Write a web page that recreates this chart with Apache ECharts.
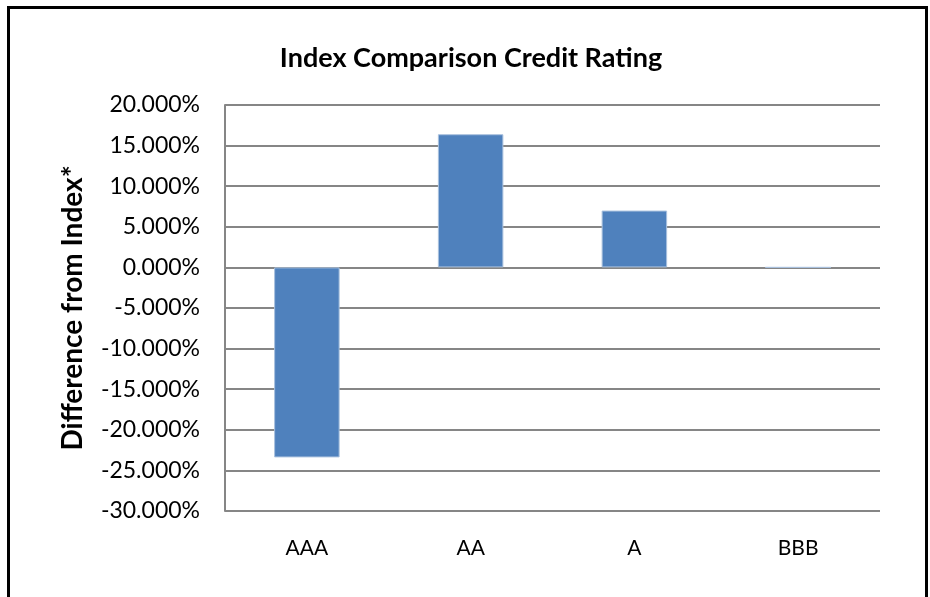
<!DOCTYPE html>
<html lang="en">
<head>
    <meta charset="UTF-8">
    <title>Index Comparison Credit Rating</title>
    <script src="https://cdn.jsdelivr.net/npm/echarts@6/dist/echarts.min.js"></script>
    <style>
        html, body {
            margin: 0;
            padding: 0;
            background: #fff;
            overflow: hidden;
        }
        #chart {
            width: 930px;
            height: 597px;
        }
        /* outer black frame, bottom edge runs off the picture */
        #frame {
            position: absolute;
            left: 7px;
            top: 6px;
            width: 915px;
            height: 620px;
            border: 3px solid #000;
            pointer-events: none;
        }
    </style>
</head>
<body>
    <div id="chart"></div>
    <div id="frame"></div>

    <script>
        const categories = ['AAA', 'AA', 'A', 'BBB'];
        const diffValues = [-23.4, 16.4, 7.0, 0];

        const chart = echarts.init(document.getElementById('chart'));

        const option = {
            animation: false,
            title: {
                text: 'Index Comparison Credit Rating',
                left: 466,
                top: 40,
                textAlign: 'center',
                textStyle: {
                    fontFamily: 'Lato',
                    fontWeight: 'bold',
                    fontSize: 27,
                    color: '#000'
                }
            },
            grid: {
                left: 225,
                right: 50,
                top: 105,
                bottom: 86
            },
            xAxis: {
                type: 'category',
                data: categories,
                position: 'bottom',
                axisLine: { show: false },
                axisTick: { show: false },
                axisLabel: {
                    margin: 27,
                    fontFamily: 'Lato',
                    fontSize: 21,
                    color: '#000'
                }
            },
            yAxis: {
                type: 'value',
                min: -30,
                max: 20,
                interval: 5,
                name: 'Difference from Index*',
                nameLocation: 'middle',
                nameGap: 138,
                nameTextStyle: {
                    fontFamily: 'Lato',
                    fontWeight: 'bold',
                    fontSize: 28,
                    color: '#000'
                },
                axisLine: {
                    show: true,
                    lineStyle: { color: '#868686', width: 2 }
                },
                axisTick: { show: false },
                splitLine: {
                    lineStyle: { color: '#868686', width: 2 }
                },
                axisLabel: {
                    margin: 25,
                    fontFamily: 'Lato',
                    fontSize: 23,
                    color: '#000',
                    formatter: function (v) {
                        return v.toFixed(3) + '%';
                    }
                }
            },
            series: [
                {
                    type: 'bar',
                    data: diffValues,
                    barWidth: '40%',
                    itemStyle: {
                        color: '#4f81bd',
                        borderColor: '#a9c1de',
                        borderWidth: 1
                    }
                }
            ]
        };

        chart.setOption(option);
    </script>
</body>
</html>
